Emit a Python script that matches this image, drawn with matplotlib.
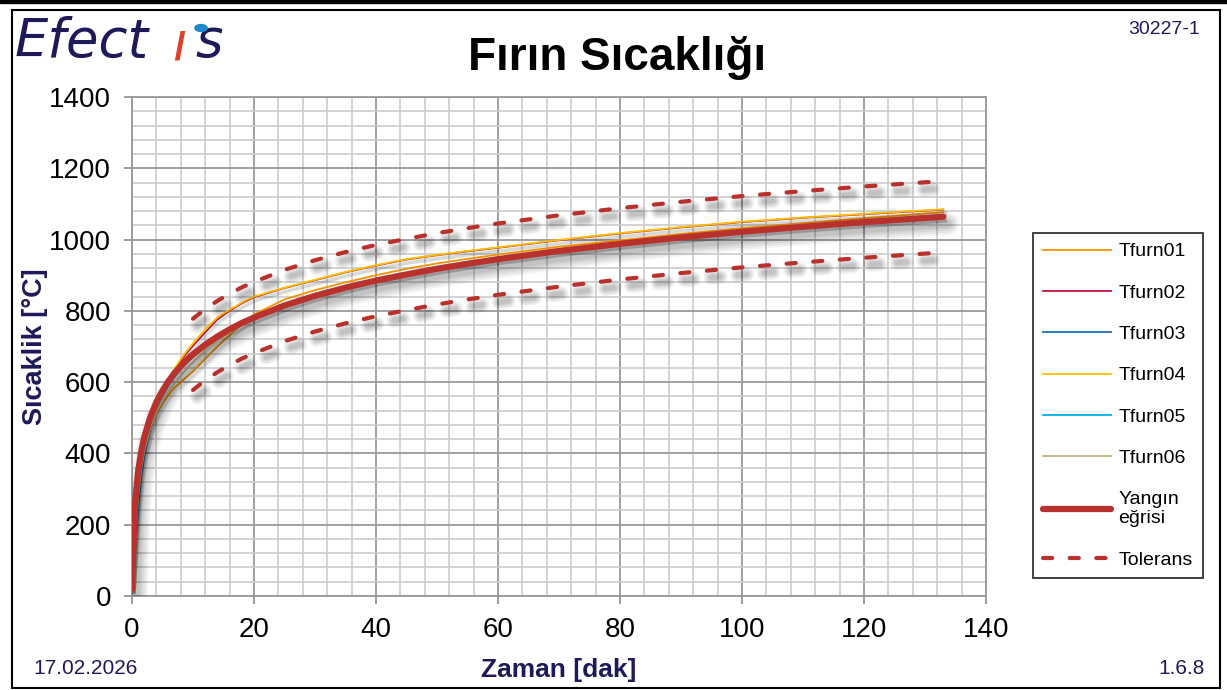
import numpy as np
import matplotlib
matplotlib.use("Agg")
import matplotlib.pyplot as plt
import matplotlib.patheffects as pe
from matplotlib.ticker import MultipleLocator
from matplotlib.patches import Rectangle, Circle

plt.rcParams['font.family'] = ['Liberation Sans', 'DejaVu Sans']

# time axis [dak]
t_meas = [0, 0.5, 1, 1.5, 2, 3, 4, 5, 6, 7, 8, 9, 10, 12, 14, 16, 18, 20, 25, 30,
          35, 40, 45, 50, 55, 60, 70, 80, 90, 100, 110, 120, 133]

tfurn01 = [20, 150, 270, 350, 400, 470, 510, 540, 565, 585, 600, 615, 630, 665, 700, 732, 762, 790, 832, 858,
           880, 900, 918, 933, 946, 958, 980, 998, 1016, 1032, 1046, 1060, 1077]
tfurn02 = [20, 200, 320, 390, 435, 495, 540, 575, 605, 632, 660, 682, 702, 740, 776, 800, 821, 838, 864, 886,
           908, 927, 944, 956, 967, 977, 998, 1017, 1034, 1049, 1061, 1071, 1084]
tfurn03 = [20, 120, 240, 330, 390, 470, 525, 562, 592, 617, 638, 657, 673, 702, 726, 746, 764, 779, 813, 840,
           863, 883, 900, 916, 930, 943, 966, 986, 1004, 1020, 1034, 1047, 1062]
tfurn04 = [20, 190, 315, 388, 432, 495, 542, 578, 610, 638, 665, 688, 709, 748, 782, 803, 823, 840, 865, 887,
           909, 928, 945, 957, 968, 978, 999, 1018, 1035, 1050, 1062, 1072, 1085]
tfurn05 = [20, 180, 300, 370, 420, 485, 530, 562, 590, 615, 636, 654, 670, 700, 724, 745, 763, 778, 812, 839,
           862, 882, 899, 915, 929, 942, 965, 985, 1003, 1019, 1033, 1046, 1061]
tfurn06 = [20, 160, 280, 355, 405, 472, 515, 548, 574, 597, 618, 638, 656, 690, 716, 740, 760, 777, 813, 841,
           864, 884, 901, 917, 931, 944, 967, 987, 1005, 1021, 1035, 1048, 1063]

t_fire = [0, 0.5, 1, 1.5, 2, 3, 4, 5, 6, 7, 8, 9, 10, 12, 14, 16, 18, 20, 25, 30,
          35, 40, 45, 50, 55, 60, 70, 80, 90, 100, 110, 120, 133]
yangin = [20, 261, 349, 404, 445, 502, 544, 576, 603, 626, 645, 663, 678, 705, 728, 748, 766, 781, 815, 842,
          865, 885, 902, 918, 932, 945, 968, 988, 1006, 1022, 1036, 1049, 1064]

t_tol = [10, 12, 14, 16, 18, 20, 25, 30, 35, 40, 45, 50, 55, 60, 70, 80, 90, 100, 110, 120, 132]
tol_ust = [778, 805, 828, 848, 866, 881, 915, 942, 965, 985, 1002, 1018, 1032, 1045, 1068, 1088, 1106, 1122,
           1136, 1149, 1163]
tol_alt = [578, 605, 628, 648, 666, 681, 715, 742, 765, 785, 802, 818, 832, 845, 868, 888, 906, 922,
           936, 949, 963]

series = [('Tfurn01', tfurn01, '#F39200'),
          ('Tfurn02', tfurn02, '#C0143C'),
          ('Tfurn03', tfurn03, '#1F6EB4'),
          ('Tfurn04', tfurn04, '#FFC000'),
          ('Tfurn05', tfurn05, '#00B0F0'),
          ('Tfurn06', tfurn06, '#C4B486')]

navy = '#1E1A5A'
red = '#B8312D'

fig = plt.figure(figsize=(12.27, 6.9), dpi=100)
ax = fig.add_axes([132/1227, 94/690, 854/1227, 499/690])

thin_shadow = [pe.SimpleLineShadow(offset=(1.5, -2.5), shadow_color='k', alpha=0.08, linewidth=2.5),
               pe.Normal()]
for name, vals, col in series:
    ax.plot(t_meas, vals, color=col, lw=1.3, label=name, path_effects=thin_shadow, zorder=3)

def blur_shadow(lw):
    # soft excel-like shadow: a few wide, faint strokes
    fx = []
    for k in [3.6, 2.9, 2.2, 1.6, 1.1]:
        fx.append(pe.SimpleLineShadow(offset=(3, -5), shadow_color='k', alpha=0.05, linewidth=lw * k))
    fx.append(pe.Normal())
    return fx

ax.plot(t_fire, yangin, color=red, lw=4.5, solid_capstyle='round', label='Yangın\neğrisi',
        path_effects=blur_shadow(4.5), zorder=4)
ax.plot(t_tol, tol_ust, color=red, lw=3, dashes=(2.2, 4.2), dash_capstyle='round', label='Tolerans',
        path_effects=blur_shadow(3), zorder=4)
ax.plot(t_tol, tol_alt, color=red, lw=3, dashes=(2.2, 4.2), dash_capstyle='round',
        path_effects=blur_shadow(3), zorder=4)

ax.set_xlim(0, 140)
ax.set_ylim(0, 1400)
ax.xaxis.set_major_locator(MultipleLocator(20))
ax.xaxis.set_minor_locator(MultipleLocator(4))
ax.yaxis.set_major_locator(MultipleLocator(200))
ax.yaxis.set_minor_locator(MultipleLocator(40))
ax.grid(which='major', color='#9A9A9A', lw=1.3, zorder=0)
ax.grid(which='minor', color='#C8C8C8', lw=1.1, zorder=0)
ax.set_axisbelow(True)
ax.tick_params(which='major', direction='out', length=6, width=1.2, color='#8A8A8A',
               labelsize=20, pad=9)
ax.tick_params(which='minor', length=0)
for s in ax.spines.values():
    s.set_color('#9A9A9A')
    s.set_linewidth(1.3)

ax.set_xlabel('Zaman [dak]', fontsize=19, fontweight='bold', color=navy)
ax.set_ylabel('Sıcaklik [°C]', fontsize=19.5, fontweight='bold', color=navy)
ax.xaxis.set_label_coords(0.5, -0.125)
ax.yaxis.set_label_coords(-0.098, 0.5)

fig.text(617/1227, 1 - 58/690, 'Fırın Sıcaklığı', fontsize=33, fontweight='bold',
         ha='center', va='center')
fig.text(1200/1227, 1 - 30/690, '30227-1', fontsize=14, color=navy, ha='right', va='center')
fig.text(33/1227, 1 - 668/690, '17.02.2026', fontsize=15, color=navy, ha='left', va='center')
fig.text(1205/1227, 1 - 668/690, '1.6.8', fontsize=15, color=navy, ha='right', va='center')

# logo
logo_kw = dict(fontsize=38, style='italic', family='DejaVu Sans', ha='left', va='center')
fig.text(15/1227, 1 - 42/690, 'Efect', color=navy, **logo_kw)
fig.text(172/1227, 1 - 44/690, 'ı', color='#E0402A', **logo_kw)
fig.text(195/1227, 1 - 42/690, 's', color=navy, **logo_kw)
fig.patches.append(Circle((201/1227, 1 - 28/690), 0.005, transform=fig.transFigure,
                          color='#1E88C8', zorder=5))

leg = fig.legend(loc='upper left', bbox_to_anchor=(1033/1227, 1 - 233/690), fontsize=14,
                 frameon=True, fancybox=False, edgecolor='k', handlelength=3.5,
                 handletextpad=0.4, labelspacing=1.22, borderpad=0.5, borderaxespad=0)
leg.get_frame().set_linewidth(1.3)
for h in leg.get_lines():
    h.set_path_effects([pe.Normal()])

# frame around the whole picture
fig.patches.append(Rectangle((12/1227, 2/690), 1208/1227, 678/690, transform=fig.transFigure,
                             fill=False, edgecolor='k', lw=1.5))
fig.patches.append(Rectangle((0, 1 - 3/690), 1, 3/690, transform=fig.transFigure,
                             color='k'))

fig.savefig('out.png', dpi=100)
